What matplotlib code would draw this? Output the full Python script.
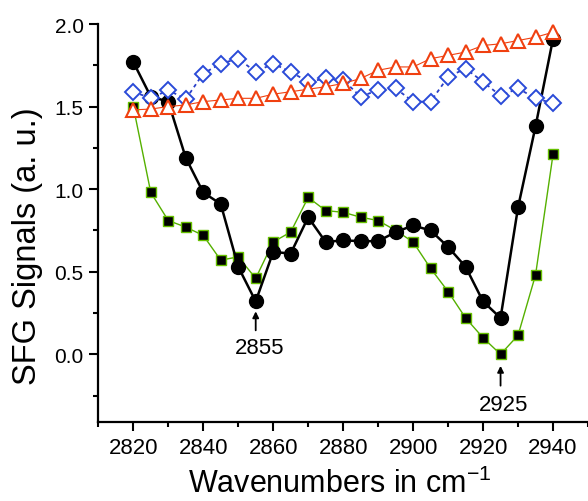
import matplotlib
matplotlib.use("Agg")
import matplotlib.pyplot as plt
from matplotlib.ticker import MultipleLocator, FormatStrFormatter

plt.rcParams['font.family'] = ['Liberation Sans', 'DejaVu Sans']
plt.rcParams['mathtext.fontset'] = 'custom'
plt.rcParams['mathtext.rm'] = 'Liberation Sans'
plt.rcParams['mathtext.default'] = 'regular'

# Wavenumbers (cm^-1)
wavenumbers = [2820, 2825, 2830, 2835, 2840, 2845, 2850, 2855, 2860, 2865,
               2870, 2875, 2880, 2885, 2890, 2895, 2900, 2905, 2910, 2915,
               2920, 2925, 2930, 2935, 2940]

# SFG signals (a. u.)
black_circles = [1.77, 1.56, 1.53, 1.19, 0.98, 0.91, 0.53, 0.32, 0.62, 0.61,
                 0.83, 0.68, 0.69, 0.685, 0.685, 0.74, 0.78, 0.75, 0.65, 0.53,
                 0.32, 0.22, 0.89, 1.38, 1.91]
green_squares = [1.50, 0.98, 0.81, 0.77, 0.72, 0.57, 0.59, 0.46, 0.68, 0.74,
                 0.95, 0.87, 0.86, 0.83, 0.81, 0.75, 0.68, 0.52, 0.38, 0.22,
                 0.10, 0.00, 0.115, 0.48, 1.21]
red_triangles = [1.48, 1.485, 1.50, 1.51, 1.53, 1.54, 1.55, 1.55, 1.575, 1.59,
                 1.605, 1.62, 1.64, 1.67, 1.72, 1.74, 1.74, 1.79, 1.81, 1.83,
                 1.87, 1.88, 1.90, 1.92, 1.95]
blue_diamonds = [1.59, 1.55, 1.60, 1.545, 1.70, 1.76, 1.79, 1.71, 1.76, 1.71,
                 1.65, 1.67, 1.66, 1.56, 1.60, 1.61, 1.53, 1.53, 1.68, 1.73,
                 1.65, 1.565, 1.61, 1.55, 1.52]

# Marked band positions
peaks = [2855, 2925]

fig = plt.figure(figsize=(5.88, 5.02), dpi=100)
ax = fig.add_axes([98.3 / 588, 1 - 423 / 502, (588 - 98.3) / 588, (423 - 25) / 502])

ax.plot(wavenumbers, green_squares, color='#55b000', lw=1.0, marker='s', ms=7.5,
        mfc='black', mec='#66c000', mew=1.0, zorder=3)
ax.plot(wavenumbers, black_circles, color='black', lw=1.8, marker='o', ms=10,
        mfc='black', mec='black', zorder=4)
ax.plot(wavenumbers, blue_diamonds, color='#2a3fc8', lw=1.3, ls=(0, (2, 2)),
        marker='D', ms=8, mfc='white', mec='#2a4ad8', mew=1.4, zorder=5)
ax.plot(wavenumbers, red_triangles, color='#f04010', lw=0.8, marker='^', ms=9.5,
        mfc='white', mec='#f04010', mew=1.5, zorder=6)

ax.set_xlim(2810, 2950)
ax.set_ylim(-0.41, 2.0)

ax.xaxis.set_major_locator(MultipleLocator(20))
ax.xaxis.set_minor_locator(MultipleLocator(10))
ax.yaxis.set_major_locator(MultipleLocator(0.5))
ax.yaxis.set_minor_locator(MultipleLocator(0.25))
ax.yaxis.set_major_formatter(FormatStrFormatter('%.1f'))

for side in ('top', 'right'):
    ax.spines[side].set_visible(False)
for side in ('left', 'bottom'):
    ax.spines[side].set_linewidth(1.6)

ax.tick_params(which='major', direction='out', length=6.5, width=1.5)
ax.tick_params(which='minor', direction='out', length=3.5, width=1.5)
ax.tick_params(axis='y', which='major', labelsize=15, pad=4)
ax.tick_params(axis='x', which='major', labelsize=16, pad=4)

ax.set_xlabel('Wavenumbers in cm$^{-1}$', fontsize=22, va='bottom')
ax.xaxis.set_label_coords(0.4936, -0.194)
ax.set_ylabel('SFG Signals (a. u.)', fontsize=23.5)
ax.yaxis.set_label_coords(-0.113, 0.443)

# Arrows and labels for the two bands
arrow_spec = [(0.26, 0.145, 0.044), (-0.07, -0.19, -0.305)]
for x, (tip, tail, ty) in zip(peaks, arrow_spec):
    ax.annotate('', xy=(x, tip), xytext=(x, tail),
                arrowprops=dict(arrowstyle='-|>', color='black', lw=1.3,
                                mutation_scale=9, shrinkA=0, shrinkB=0))
    ax.text(x + 1, ty, str(x), ha='center', va='center', fontsize=16)

fig.savefig('out.png', dpi=100)
